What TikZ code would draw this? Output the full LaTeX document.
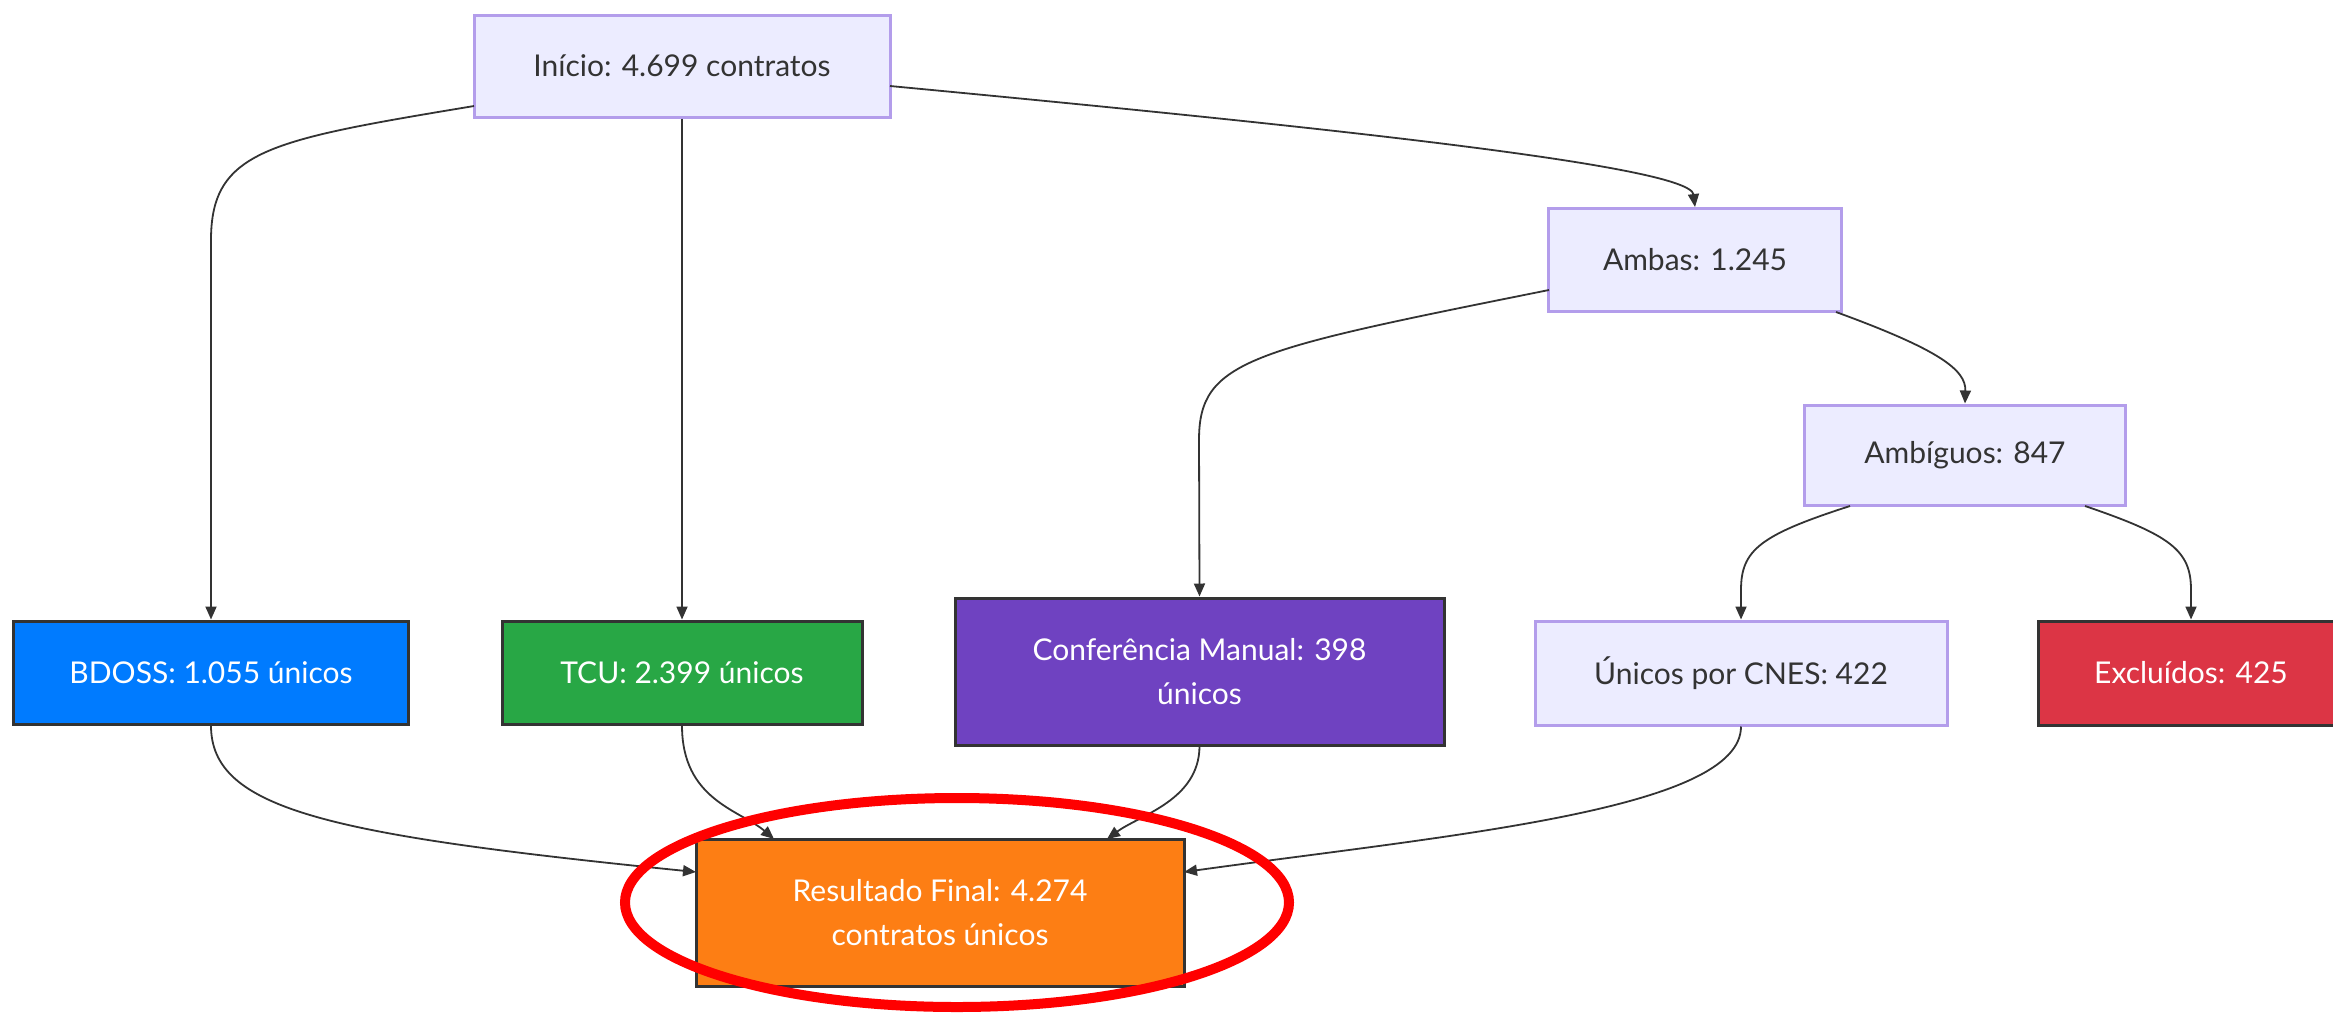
\documentclass[tikz,border=0pt]{standalone}
\usepackage{fontspec}
\setmainfont{Lato}
\usetikzlibrary{arrows.meta,shapes.geometric}
\definecolor{lightfill}{HTML}{ECECFF}
\definecolor{lightdraw}{HTML}{B39DEB}
\definecolor{darkline}{HTML}{333333}
\definecolor{cblue}{HTML}{007BFF}
\definecolor{cgreen}{HTML}{28A745}
\definecolor{cpurple}{HTML}{6F42C1}
\definecolor{cred}{HTML}{DC3545}
\definecolor{corange}{HTML}{FD7E14}
\definecolor{markred}{HTML}{FF0000}
\tikzset{
  base/.style={rectangle, inner sep=0pt, align=center,
    font=\fontsize{30}{44}\selectfont},
  lightbox/.style={base, fill=lightfill, draw=lightdraw, line width=3pt, text=darkline},
  darkbox/.style={base, draw=darkline, line width=3pt, text=white},
  conn/.style={draw=darkline, line width=1.8pt,
    -{Triangle[length=13pt,width=11pt]}},
}
\begin{document}
\begin{tikzpicture}[x=1pt,y=-1pt]
\useasboundingbox (0,0) rectangle (2333,1018);
\begin{scope}
\clip (0,0) rectangle (2333,1018);
% nodes
\node[lightbox, minimum width=416pt, minimum height=102pt] (inicio) at (682,66) {Início: 4.699 contratos};
\node[lightbox, minimum width=293pt, minimum height=103pt] (ambas) at (1695,260) {Ambas: 1.245};
\node[lightbox, minimum width=321pt, minimum height=100pt] (ambig) at (1965,455) {Ambíguos: 847};
\node[darkbox, fill=cblue, minimum width=395pt, minimum height=103pt] (bdoss) at (211,672.5) {BDOSS: 1.055 únicos};
\node[darkbox, fill=cgreen, minimum width=360pt, minimum height=103pt] (tcu) at (682,672.5) {TCU: 2.399 únicos};
\node[darkbox, fill=cpurple, minimum width=489pt, minimum height=147pt] (conf) at (1199.5,671.5) {Conferência Manual: 398\\únicos};
\node[lightbox, minimum width=412pt, minimum height=104pt] (cnes) at (1741,673) {Únicos por CNES: 422};
\node[darkbox, fill=cred, minimum width=306pt, minimum height=104pt] (excl) at (2191,673) {Excluídos: 425};
\node[darkbox, fill=corange, minimum width=488pt, minimum height=147pt] (result) at (940,912.5) {Resultado Final: 4.274\\contratos únicos};
% connectors
\coordinate (iL) at (474,106);
\coordinate (iR) at (890,86);
\coordinate (aL) at (1549,290);
\coordinate (aR) at (1836,312);
\coordinate (gL) at (1850,506);
\coordinate (gR) at (2085,506);
\coordinate (rL) at (696,872);
\coordinate (rR) at (1184,872);
\coordinate (rT1) at (774,839);
\coordinate (rT2) at (1107,839);
\draw[conn] (iL) .. controls (270,140) and (211,150) .. (211,240) -- (bdoss.north);
\draw[conn] (inicio.south) -- (tcu.north);
\draw[conn] (iR) .. controls (1300,125) and (1690,165) .. (ambas.north);
\draw[conn] (aL) .. controls (1250,350) and (1199,360) .. (1199,440) -- (conf.north);
\draw[conn] (aR) .. controls (1940,350) and (1966,370) .. (ambig.north);
\draw[conn] (gL) .. controls (1760,535) and (1741,550) .. (1741,590) -- (cnes.north);
\draw[conn] (gR) .. controls (2170,535) and (2191,550) .. (2191,590) -- (excl.north);
\draw[conn] (bdoss.south) .. controls (211,810) and (330,835) .. (rL);
\draw[conn] (tcu.south) .. controls (682,800) and (740,810) .. (rT1);
\draw[conn] (conf.south) .. controls (1199,800) and (1140,815) .. (rT2);
\draw[conn] (cnes.south) .. controls (1741,810) and (1450,835) .. (rR);
% highlight
\draw[markred, line width=10pt] (957,902.5) ellipse [x radius=332, y radius=104.5];
\end{scope}
\end{tikzpicture}
\end{document}
